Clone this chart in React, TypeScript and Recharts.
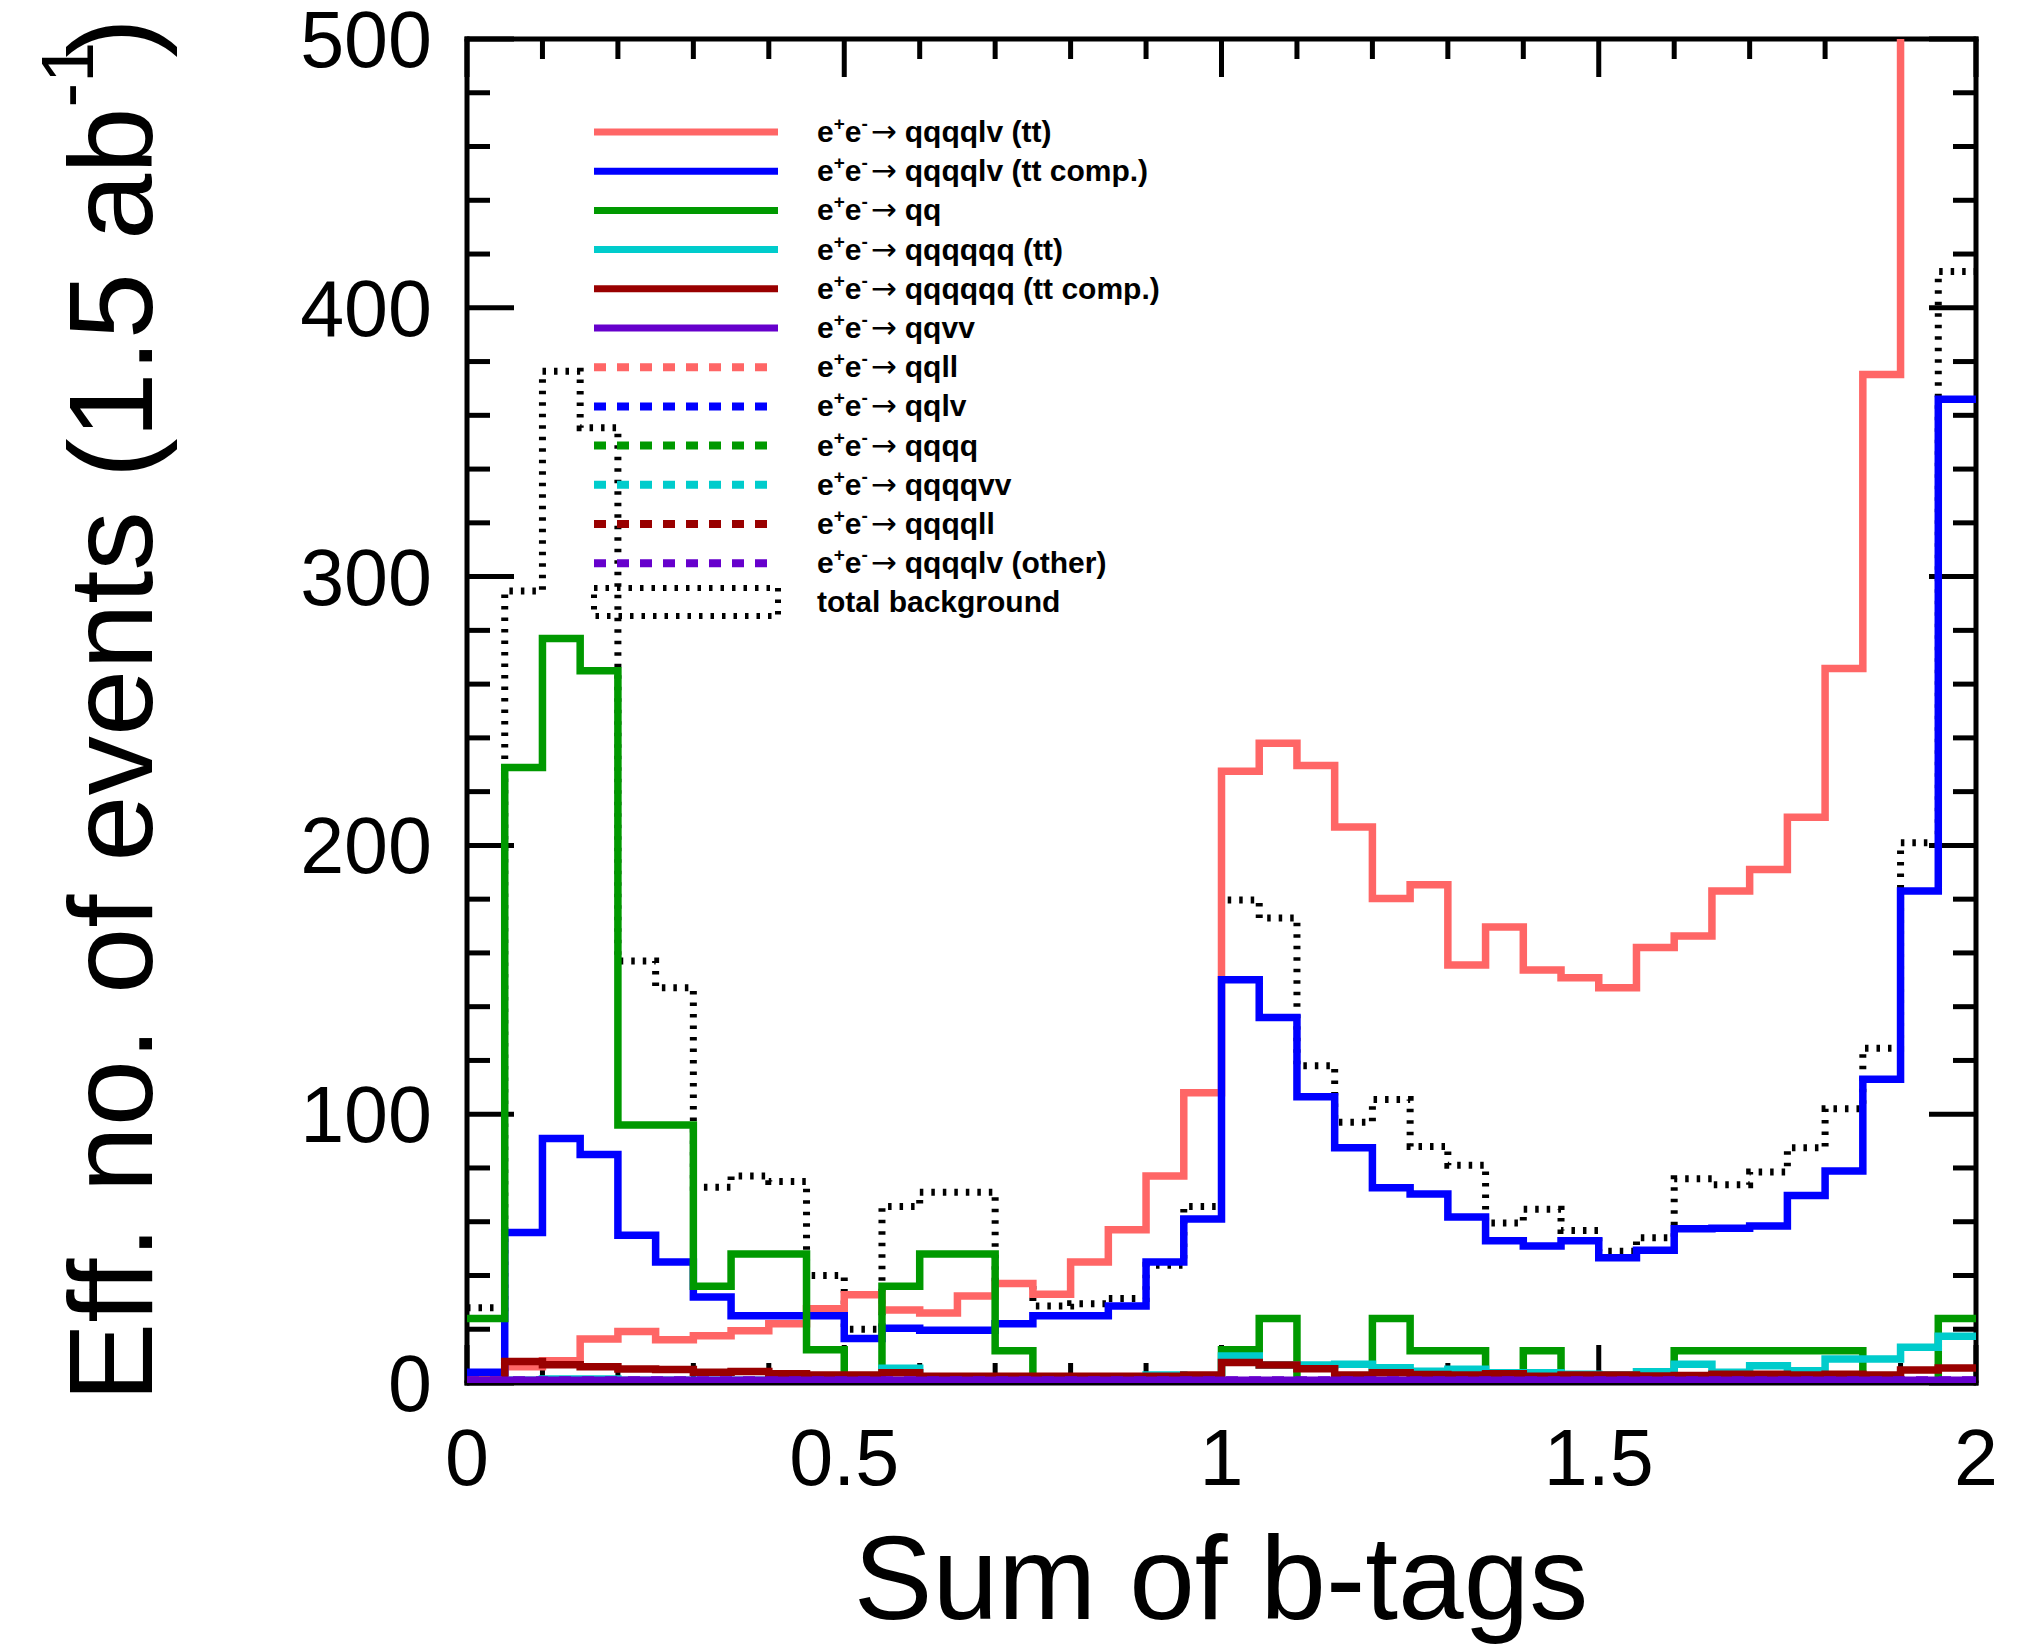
import React from 'react'
import { LineChart, Line, XAxis, YAxis } from 'recharts'

// bin edges of the histogram (40 bins of 0.05 between 0 and 2)
const binEdges = [
  0, 0.05, 0.1, 0.15, 0.2, 0.25, 0.3, 0.35, 0.4, 0.45,
  0.5, 0.55, 0.6, 0.65, 0.7, 0.75, 0.8, 0.85, 0.9, 0.95,
  1, 1.05, 1.1, 1.15, 1.2, 1.25, 1.3, 1.35, 1.4, 1.45,
  1.5, 1.55, 1.6, 1.65, 1.7, 1.75, 1.8, 1.85, 1.9, 1.95, 2
]

const xTicks = [0, 0.1, 0.2, 0.3, 0.4, 0.5, 0.6, 0.7, 0.8, 0.9, 1, 1.1, 1.2, 1.3, 1.4, 1.5, 1.6, 1.7, 1.8, 1.9, 2]
const xLabels = [0, 0.5, 1, 1.5, 2]
const yTicks = [0, 20, 40, 60, 80, 100, 120, 140, 160, 180, 200, 220, 240, 260, 280, 300, 320, 340, 360, 380, 400, 420, 440, 460, 480, 500]
const yLabels = [0, 100, 200, 300, 400, 500]

// bin contents, one value per bin
const qqqqlvTT = [
  1, 6, 8.3, 16.4, 19.2, 16.1, 17.6, 19.4, 22, 27.6,
  32.8, 27.2, 26, 32.4, 37, 33, 45, 57, 77, 108,
  227.6, 238, 229.7, 206.8, 180.2, 185.4, 155.5, 169.6, 153.6, 150.8,
  147, 162, 166.3, 183, 191, 210.5, 265.8, 375.2, 560, 640
]
const qqqqlvTTComp = [
  4, 56, 91, 85, 55, 45, 32, 25, 25, 25,
  16.6, 20.4, 19.6, 19.6, 22, 25, 25, 28.6, 45, 61,
  150, 136, 106.5, 87.5, 72.6, 70.3, 61.8, 52.9, 51, 52.9,
  46.6, 49.4, 57.4, 57.6, 58.4, 69.8, 78.9, 113, 183, 366
]
const qq = [
  24, 229, 277, 265, 96, 96, 36, 48, 48, 12.4,
  0, 36, 48, 48, 12, 0, 0, 0, 0, 0,
  12.4, 24, 0, 0, 24, 12, 12, 0, 12, 0,
  0, 0, 12, 12, 12, 12, 12, 0, 0, 24
]
const qqqqqqTT = [
  0.5, 1, 1.5, 1.5, 1, 1, 1, 1, 1.5, 1,
  1, 5.5, 1.5, 1, 1, 1, 1, 1.5, 3, 2,
  10, 6.7, 6.7, 7, 5.7, 4.4, 5.1, 3.8, 3.8, 3.3,
  3, 4.2, 7, 4, 6.4, 4.6, 8.9, 8.9, 13.3, 17.4
]
const qqqqqqTTComp = [
  1, 8, 6.8, 6, 5.2, 5, 4, 4.3, 3.4, 3,
  3, 3.8, 2.5, 2.5, 2.5, 2.5, 2.5, 2.5, 2.5, 3,
  7.6, 6.7, 5.3, 3, 3.8, 3.2, 3, 3.4, 2.5, 3,
  3, 2.6, 2.8, 3.3, 3.3, 3, 3.3, 3, 4.8, 5.6
]
const qqvv = [
  1, 1, 1, 1, 1, 1, 1, 1, 1, 1,
  1, 1, 1, 1, 1, 1, 1, 1, 1, 1,
  1, 1, 1, 1, 1, 1, 1, 1, 1, 1,
  1, 1, 1, 1, 1, 1, 1, 1, 1, 1
]
const qqll = [
  0, 0.3, 0.3, 0.3, 0.2, 0.2, 0.2, 0.2, 0.2, 0.2,
  0.2, 0.3, 0.2, 0.2, 0.2, 0.2, 0.2, 0.2, 0.2, 0.2,
  0.3, 0.3, 0.3, 0.2, 0.2, 0.2, 0.2, 0.2, 0.2, 0.2,
  0.2, 0.2, 0.2, 0.2, 0.2, 0.2, 0.2, 0.2, 0.3, 0.3
]
const qqlv = [
  0, 0.5, 0.5, 0.4, 0.4, 0.3, 0.3, 0.3, 0.3, 0.3,
  0.3, 0.4, 0.3, 0.3, 0.3, 0.3, 0.3, 0.3, 0.3, 0.4,
  0.6, 0.5, 0.5, 0.4, 0.4, 0.3, 0.3, 0.3, 0.3, 0.3,
  0.3, 0.3, 0.3, 0.3, 0.3, 0.3, 0.4, 0.4, 0.5, 0.6
]
const qqqq = [
  0, 0.6, 0.6, 0.5, 0.4, 0.4, 0.3, 0.3, 0.3, 0.3,
  0.3, 0.4, 0.3, 0.3, 0.3, 0.3, 0.3, 0.3, 0.3, 0.3,
  0.5, 0.5, 0.4, 0.4, 0.3, 0.3, 0.3, 0.3, 0.3, 0.3,
  0.3, 0.3, 0.3, 0.3, 0.3, 0.3, 0.3, 0.4, 0.4, 0.5
]
const qqqqvv = [
  0, 0.2, 0.2, 0.2, 0.2, 0.2, 0.2, 0.2, 0.2, 0.2,
  0.2, 0.3, 0.2, 0.2, 0.2, 0.2, 0.2, 0.2, 0.2, 0.2,
  0.3, 0.3, 0.2, 0.2, 0.2, 0.2, 0.2, 0.2, 0.2, 0.2,
  0.2, 0.2, 0.2, 0.2, 0.2, 0.2, 0.3, 0.3, 0.3, 0.4
]
const qqqqll = [
  0, 0.2, 0.2, 0.2, 0.2, 0.2, 0.2, 0.2, 0.2, 0.2,
  0.2, 0.2, 0.2, 0.2, 0.2, 0.2, 0.2, 0.2, 0.2, 0.2,
  0.3, 0.2, 0.2, 0.2, 0.2, 0.2, 0.2, 0.2, 0.2, 0.2,
  0.2, 0.2, 0.2, 0.2, 0.2, 0.2, 0.2, 0.2, 0.3, 0.3
]
const qqqqlvOther = [
  1, 1, 1, 1, 1, 1, 1, 1, 1, 1,
  1, 1, 1, 1, 1, 1, 1, 1, 1, 1,
  1, 1, 1, 1, 1, 1, 1, 1, 1, 1,
  1, 1, 1, 1, 1, 1, 1, 1, 1, 1
]
const totalBackground = [
  28, 294.6, 376.4, 355.4, 157, 147, 72.8, 77, 75, 40,
  20, 65.7, 71, 71, 37, 28.6, 29.5, 31.4, 43.8, 65.7,
  179.7, 173, 118, 97, 105.5, 88, 81, 59.5, 64.6, 56.7,
  49, 54, 76, 73.8, 78.5, 87.5, 102, 124.5, 201, 413.5
]

const FONT = '"Liberation Sans", Arial, Helvetica, sans-serif'
const DOTTED = '3.5 8'
const DASHED = '12 11'

// plot frame in page pixels
const PLOT = { left: 467, right: 1976, top: 39, bottom: 1383 }
const W = 2043
const H = 1648

const series = [
  { key: 'ttSemi', label: 'qqqqlv (tt)', values: qqqqlvTT, color: '#ff6666', dash: undefined, width: 7.5 },
  { key: 'ttSemiComp', label: 'qqqqlv (tt comp.)', values: qqqqlvTTComp, color: '#0000ff', dash: undefined, width: 7.5 },
  { key: 'qq', label: 'qq', values: qq, color: '#009900', dash: undefined, width: 7.5 },
  { key: 'ttHad', label: 'qqqqqq (tt)', values: qqqqqqTT, color: '#00cccc', dash: undefined, width: 7.5 },
  { key: 'ttHadComp', label: 'qqqqqq (tt comp.)', values: qqqqqqTTComp, color: '#990000', dash: undefined, width: 7.5 },
  { key: 'qqvv', label: 'qqvv', values: qqvv, color: '#6600cc', dash: undefined, width: 7.5 },
  { key: 'qqll', label: 'qqll', values: qqll, color: '#ff6666', dash: DASHED, width: 8 },
  { key: 'qqlv', label: 'qqlv', values: qqlv, color: '#0000ff', dash: DASHED, width: 8 },
  { key: 'qqqq', label: 'qqqq', values: qqqq, color: '#009900', dash: DASHED, width: 8 },
  { key: 'qqqqvv', label: 'qqqqvv', values: qqqqvv, color: '#00cccc', dash: DASHED, width: 8 },
  { key: 'qqqqll', label: 'qqqqll', values: qqqqll, color: '#990000', dash: DASHED, width: 8 },
  { key: 'other', label: 'qqqqlv (other)', values: qqqqlvOther, color: '#6600cc', dash: DASHED, width: 8 },
  { key: 'total', label: 'total background', values: totalBackground, color: '#000000', dash: DOTTED, width: 7 }
]

// legend keeps the order of the list above; drawing order puts the
// near-zero dashed ones underneath and the solid purple on the baseline on top
const drawOrder = ['total', 'qqll', 'qqlv', 'qqqq', 'qqqqvv', 'qqqqll', 'ttSemi', 'ttSemiComp', 'qq', 'ttHad', 'ttHadComp', 'qqvv', 'other']

const chartData = binEdges.map((x, i) => {
  const row: Record<string, number> = { x }
  series.forEach(s => {
    row[s.key] = s.values[Math.min(i, s.values.length - 1)]
  })
  return row
})

const isLabel = (list: number[], v: number) => list.some(l => Math.abs(l - v) < 1e-6)

const XTick = (props: any) => {
  const { x, y, payload, side } = props
  const v = payload.value
  const major = isLabel(xLabels, v)
  const len = major ? 38 : 20
  const dir = side === 'bottom' ? -1 : 1
  return (
    <g>
      <line x1={x} y1={y} x2={x} y2={y + dir * len} stroke="#000" strokeWidth={5} />
      {side === 'bottom' && major && (
        <text x={x} y={y + 102} textAnchor="middle" fontSize={79} fontFamily={FONT} fill="#000">
          {String(v)}
        </text>
      )}
    </g>
  )
}

const YTick = (props: any) => {
  const { x, y, payload, side } = props
  const v = payload.value
  const major = isLabel(yLabels, v)
  const len = major ? 47 : 23
  const dir = side === 'left' ? 1 : -1
  return (
    <g>
      <line x1={x} y1={y} x2={x + dir * len} y2={y} stroke="#000" strokeWidth={5} />
      {side === 'left' && major && (
        <text x={x - 35} y={y + 28} textAnchor="end" fontSize={79} fontFamily={FONT} fill="#000">
          {String(v)}
        </text>
      )}
    </g>
  )
}

const ProcessLabel = ({ x, y, text }: { x: number; y: number; text: string }) => (
  <text x={x} y={y} fontFamily={FONT} fontWeight="bold" fontSize={30} fill="#000">
    e
    <tspan dy={-12} fontSize={19}>+</tspan>
    <tspan dy={12}>e</tspan>
    <tspan dy={-12} fontSize={19}>-</tspan>
    <tspan dy={12} dx={3} fontFamily='"DejaVu Sans", sans-serif' fontWeight="normal" fontSize={31}>{'\u2192'}</tspan>
    <tspan dx={8}>{text}</tspan>
  </text>
)

const Legend = () => {
  const x1 = 594
  const x2 = 778
  const y0 = 132
  const step = 39.2
  const rows = series.filter(s => s.key !== 'total')
  return (
    <g>
      {rows.map((s, i) => {
        const y = y0 + i * step
        return (
          <g key={s.key}>
            <line x1={x1} x2={x2} y1={y} y2={y} stroke={s.color} strokeWidth={s.dash ? 8 : 7} strokeDasharray={s.dash} />
            <ProcessLabel x={817} y={y + 10} text={s.label} />
          </g>
        )
      })}
      <rect x={594} y={588} width={184} height={28} fill="none" stroke="#000" strokeWidth={6} strokeDasharray={DOTTED} />
      <text x={817} y={612} fontFamily={FONT} fontWeight="bold" fontSize={30} fill="#000">
        total background
      </text>
    </g>
  )
}

const frameLine = { stroke: '#000', strokeWidth: 5, strokeLinecap: 'square' as const }

// the same four axes are used by both layers so the plot areas line up;
// the lower layer draws frame and ticks, the upper one only the histograms
const Axes = ({ visible }: { visible: boolean }) => [
  <XAxis
    key="b"
    xAxisId="b"
    dataKey="x"
    type="number"
    domain={[0, 2]}
    ticks={xTicks}
    interval={0}
    height={H - PLOT.bottom}
    tickSize={0}
    tickMargin={0}
    tickLine={false}
    axisLine={visible ? frameLine : false}
    tick={visible ? <XTick side="bottom" /> : false}
  />,
  <XAxis
    key="t"
    xAxisId="t"
    dataKey="x"
    orientation="top"
    type="number"
    domain={[0, 2]}
    ticks={xTicks}
    interval={0}
    height={PLOT.top}
    tickSize={0}
    tickMargin={0}
    tickLine={false}
    axisLine={visible ? frameLine : false}
    tick={visible ? <XTick side="top" /> : false}
  />,
  <YAxis
    key="l"
    yAxisId="l"
    type="number"
    domain={[0, 500]}
    ticks={yTicks}
    interval={0}
    width={PLOT.left}
    allowDataOverflow
    tickSize={0}
    tickMargin={0}
    tickLine={false}
    axisLine={visible ? frameLine : false}
    tick={visible ? <YTick side="left" /> : false}
  />,
  <YAxis
    key="r"
    yAxisId="r"
    orientation="right"
    type="number"
    domain={[0, 500]}
    ticks={yTicks}
    interval={0}
    width={W - PLOT.right}
    allowDataOverflow
    tickSize={0}
    tickMargin={0}
    tickLine={false}
    axisLine={visible ? frameLine : false}
    tick={visible ? <YTick side="right" /> : false}
  />
]

export default function App() {
  return (
    <div style={{ position: 'absolute', left: 0, top: 0, width: W, height: H, background: '#fff' }}>
      <div style={{ position: 'absolute', left: 0, top: 0 }}>
        <LineChart width={W} height={H} data={chartData} margin={{ top: 0, right: 0, bottom: 0, left: 0 }}>
          {Axes({ visible: true })}
        </LineChart>
      </div>
      <div style={{ position: 'absolute', left: 0, top: 0 }}>
        <LineChart width={W} height={H} data={chartData} margin={{ top: 0, right: 0, bottom: 0, left: 0 }}>
          {Axes({ visible: false })}
          {drawOrder.map(key => {
            const s = series.find(d => d.key === key)!
            return (
              <Line
                key={s.key}
                xAxisId="b"
                yAxisId="l"
                dataKey={s.key}
                type="stepAfter"
                stroke={s.color}
                strokeWidth={s.width}
                strokeDasharray={s.dash}
                strokeLinejoin="miter"
                strokeLinecap="butt"
                dot={false}
                activeDot={false}
                isAnimationActive={false}
              />
            )
          })}
        </LineChart>
      </div>
      <svg width={W} height={H} style={{ position: 'absolute', left: 0, top: 0, pointerEvents: 'none' }}>
        <Legend />
        <text x={1221} y={1619} textAnchor="middle" fontSize={118} fontFamily={FONT} fill="#000">
          Sum of b-tags
        </text>
        <text transform="translate(152, 1402) rotate(-90)" textAnchor="start" fontSize={119} fontFamily={FONT} fill="#000">
          Eff. no. of events (1.5 ab
          <tspan dy={-59} fontSize={74}>-1</tspan>
          <tspan dy={59} dx={-16}>)</tspan>
        </text>
      </svg>
    </div>
  )
}
